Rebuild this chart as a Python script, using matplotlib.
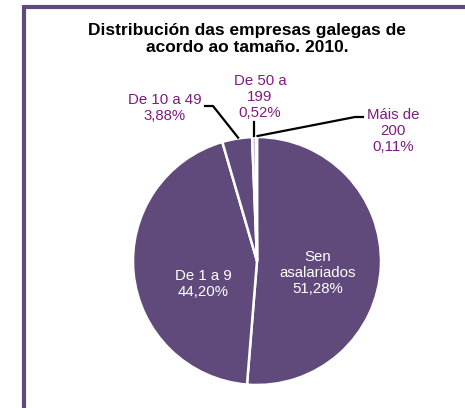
import numpy as np
import matplotlib
matplotlib.use('Agg')
import matplotlib.pyplot as plt

# Data
categories = ['Sen\nasalariados', 'De 1 a 9', 'De 10 a 49', 'De 50 a\n199', 'Máis de\n200']
values = [51.28, 44.20, 3.88, 0.52, 0.11]
pct_labels = ['51,28%', '44,20%', '3,88%', '0,52%', '0,11%']

plt.rcParams['font.family'] = ['Liberation Sans', 'DejaVu Sans']

W, H = 465, 408
fig = plt.figure(figsize=(W / 100, H / 100), dpi=100)
ax = fig.add_axes([0, 0, 1, 1])

dark = '#604A7B'
light = '#CCC1DA'
txt = '#7E1A82'
colors = [dark, dark, dark, light, light]

cx, cy, r = 257, H - 261, 124
wedges, _ = ax.pie(values, colors=colors, startangle=90, counterclock=False,
                   center=(cx, cy), radius=r, frame=True,
                   wedgeprops=dict(edgecolor='white', linewidth=1.8))
ax.set_xlim(0, W)
ax.set_ylim(0, H)
ax.set_aspect('equal')
ax.axis('off')

# frame of the chart area (extends past right and bottom)
ax.plot([23.5, W + 5], [H - 6.5, H - 6.5], color=dark, lw=3, solid_capstyle='butt')
ax.plot([23.5, 23.5], [H - 5, -5], color=dark, lw=3, solid_capstyle='butt')

# title
ax.text(247, H - 39, 'Distribución das empresas galegas de\nacordo ao tamaño. 2010.',
        ha='center', va='center', fontsize=12.5, fontweight='bold', linespacing=1.25)

# edge points of wedges (mid angle)
def edge_pt(w):
    a = np.deg2rad((w.theta1 + w.theta2) / 2)
    return cx + r * np.cos(a), cy + r * np.sin(a)

fs = 10.8
ls = 1.22
# inside labels
ax.text(318, H - 273, categories[0] + '\n' + pct_labels[0], ha='center', va='center',
        color='white', fontsize=fs, linespacing=ls)
ax.text(203, H - 284, categories[1] + '\n' + pct_labels[1], ha='center', va='center',
        color='white', fontsize=fs, linespacing=ls)

# outside labels with leaders
ax.text(165, H - 108, categories[2] + '\n' + pct_labels[2], ha='center', va='center',
        color=txt, fontsize=fs, linespacing=ls)
ex, ey = edge_pt(wedges[2])
ax.plot([205, 213, ex + 1, ], [H - 106, H - 106, ey + 1], color='black', lw=1.6)

ax.text(260, H - 97, categories[3] + '\n' + pct_labels[3], ha='center', va='center',
        color=txt, fontsize=fs, linespacing=ls)
ex, ey = edge_pt(wedges[3])
ax.plot([ex, ex], [H - 122, ey + 1], color='black', lw=1.6)

ax.text(393, H - 131, categories[4] + '\n' + pct_labels[4], ha='center', va='center',
        color=txt, fontsize=fs, linespacing=ls)
ex, ey = edge_pt(wedges[4])
ax.plot([ex + 1, 355, 363], [ey + 1, H - 117, H - 117], color='black', lw=1.6)

fig.savefig('out.png', dpi=100)
